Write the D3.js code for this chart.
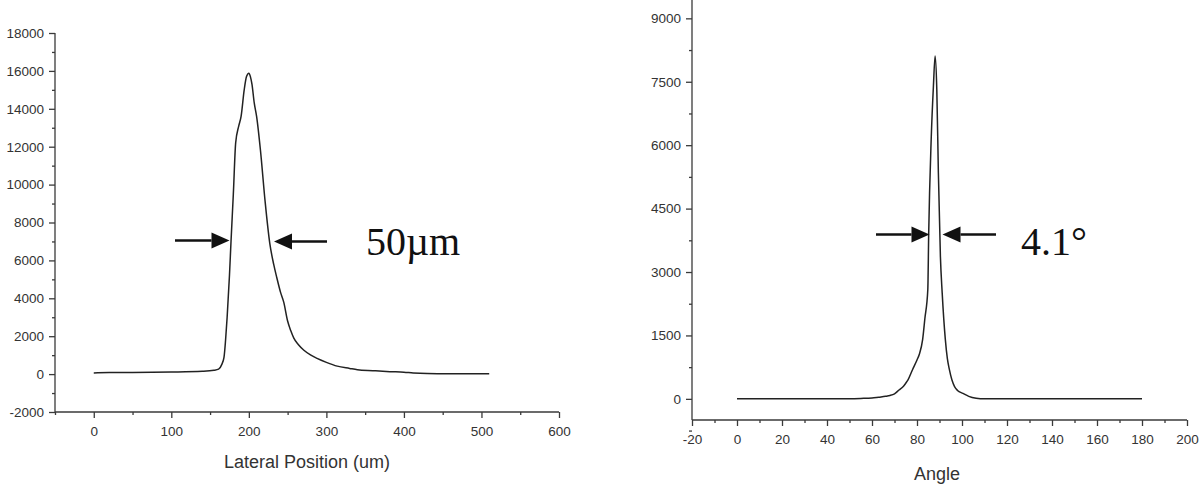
<!DOCTYPE html>
<html>
<head>
<meta charset="utf-8">
<script src="https://cdn.jsdelivr.net/npm/d3@7"></script>
<style>
  html, body { margin: 0; padding: 0; background: #ffffff; }
  svg { display: block; }
  .axis path, .axis line { stroke: #3a3a3a; stroke-width: 1.3; }
  .axis text { fill: #333333; font-family: "Liberation Sans", Arial, sans-serif; font-size: 13.5px; }
  .axis-title { fill: #333333; font-family: "Liberation Sans", Arial, sans-serif; font-size: 18px; }
  .note { fill: #111111; font-family: "Liberation Serif", "Times New Roman", serif; font-size: 40px; }
</style>
</head>
<body>
<script>
// Left panel: lateral intensity profile
const leftPos = [0, 20, 50, 100, 140, 155, 161, 165, 168, 170, 172, 175, 177, 180, 183, 187, 190, 194, 197, 200,
  202, 204, 207, 210, 215, 221, 227, 232, 236, 241, 245, 250, 254, 258, 264, 271, 280, 288, 300, 314, 330,
  340, 360, 382, 400, 412, 430, 455, 480, 510];
const leftVal = [60, 80, 90, 110, 150, 200, 260, 500, 900, 1800, 3000, 5200, 7000, 9500, 12200, 13100, 13600, 15000, 15700, 15880,
  15700, 15300, 14300, 13600, 11800, 9100, 6900, 5800, 5100, 4300, 3800, 2800, 2300, 1900, 1550, 1260, 1000, 830, 620, 420, 300,
  230, 180, 130, 100, 60, 30, 20, 15, 15];
const leftMajorX = [0, 100, 200, 300, 400, 500, 600];
const leftMinorX = [-50, 50, 150, 250, 350, 450, 550];
const leftMajorY = [-2000, 0, 2000, 4000, 6000, 8000, 10000, 12000, 14000, 16000, 18000];
const leftMinorY = [-1000, 1000, 3000, 5000, 7000, 9000, 11000, 13000, 15000, 17000];

// Right panel: angular intensity profile
const rightAngle = [0, 20, 45, 55, 60, 63, 66, 68, 70, 72, 74, 75, 76, 78, 80, 81, 82.5, 83.5, 84.8, 85.2,
  86.3, 87.3, 88.05, 88.8, 89.5, 90.4, 91.2, 92.6, 93.5, 94.4, 95.5, 96.7, 98, 100.4, 103, 106.3, 110, 130, 150, 180];
const rightVal = [0, 0, 0, 10, 20, 40, 60, 80, 120, 210, 300, 370, 450, 690, 920, 1050, 1400, 1900, 2580, 3920,
  6130, 7400, 8110, 7320, 5350, 3370, 2500, 1400, 950, 690, 450, 290, 200, 130, 60, 15, 0, 0, 0, 0];
const rightMajorX = [-20, 0, 20, 40, 60, 80, 100, 120, 140, 160, 180, 200];
const rightMinorX = [-10, 10, 30, 50, 70, 90, 110, 130, 150, 170, 190];
const rightMajorY = [0, 1500, 3000, 4500, 6000, 7500, 9000];
const rightMinorY = [-750, 750, 2250, 3750, 5250, 6750, 8250];

const W = 1203, H = 496;
const svg = d3.select('body').append('svg').attr('width', W).attr('height', H);

// plain hyphen for negatives, as in the source figure
const fmt = (d) => String(d);

function drawPanel(cfg) {
  const x = d3.scaleLinear().domain(cfg.xDomain).range(cfg.xRange);
  const y = d3.scaleLinear().domain(cfg.yDomain).range(cfg.yRange);
  const x0 = cfg.xRange[0], y0 = cfg.yRange[0];

  // minor ticks first, majors on top
  svg.append('g').attr('class', 'axis').attr('transform', `translate(0,${y0})`)
    .call(d3.axisBottom(x).tickValues(cfg.minorX).tickSize(3).tickFormat(''))
    .select('.domain').remove();
  svg.append('g').attr('class', 'axis').attr('transform', `translate(${x0},0)`)
    .call(d3.axisLeft(y).tickValues(cfg.minorY).tickSize(3).tickFormat(''))
    .select('.domain').remove();

  const gx = svg.append('g').attr('class', 'axis').attr('transform', `translate(0,${y0})`)
    .call(d3.axisBottom(x).tickValues(cfg.majorX).tickSize(6).tickSizeOuter(0).tickPadding(8).tickFormat(fmt));
  const gy = svg.append('g').attr('class', 'axis').attr('transform', `translate(${x0},0)`)
    .call(d3.axisLeft(y).tickValues(cfg.majorY).tickSize(6).tickSizeOuter(0).tickPadding(5).tickFormat(fmt));
  gx.select('.domain').attr('d', `M${cfg.xRange[0]},0H${cfg.xRange[1]}`);
  gy.select('.domain').attr('d', `M0,${cfg.yRange[0]}V${cfg.yTop}`);

  svg.append('text').attr('class', 'axis-title')
    .attr('x', cfg.titleX).attr('y', cfg.titleY).attr('text-anchor', 'middle')
    .text(cfg.title);

  const line = d3.line().curve(d3.curveMonotoneX).x((d) => x(d[0])).y((d) => y(d[1]));
  svg.append('path')
    .datum(cfg.xs.map((v, i) => [v, cfg.ys[i]]))
    .attr('d', line)
    .attr('fill', 'none')
    .attr('stroke', '#222222')
    .attr('stroke-width', 1.5)
    .attr('stroke-linejoin', 'round');
}

drawPanel({
  xDomain: [-50, 600], xRange: [55, 559],
  yDomain: [-2000, 18000], yRange: [412, 33], yTop: 33,
  majorX: leftMajorX, minorX: leftMinorX, majorY: leftMajorY, minorY: leftMinorY,
  xs: leftPos, ys: leftVal,
  title: 'Lateral Position (um)', titleX: 307, titleY: 468
});

drawPanel({
  xDomain: [-20, 200], xRange: [692, 1187],
  yDomain: [-500, 9500], yRange: [420, -2.8], yTop: 0,
  majorX: rightMajorX, minorX: rightMinorX, majorY: rightMajorY, minorY: rightMinorY,
  xs: rightAngle, ys: rightVal,
  title: 'Angle', titleX: 937, titleY: 480
});

// width annotations: arrows pointing at the half-maximum crossings
function arrow(xTail, xTip, yy) {
  const dir = Math.sign(xTip - xTail);
  const headLen = 18, headHalf = 8;
  svg.append('line')
    .attr('x1', xTail).attr('y1', yy).attr('x2', xTip - dir * headLen).attr('y2', yy)
    .attr('stroke', '#111111').attr('stroke-width', 2.5);
  svg.append('path')
    .attr('d', `M${xTip},${yy}L${xTip - dir * headLen},${yy - headHalf}L${xTip - dir * headLen},${yy + headHalf}Z`)
    .attr('fill', '#111111');
}

arrow(175, 229.5, 240.5);
arrow(327, 274, 241.5);
svg.append('text').attr('class', 'note').attr('x', 366).attr('y', 255).text('50µm');

arrow(876, 929.5, 234.5);
arrow(996, 942.5, 234.5);
svg.append('text').attr('class', 'note').attr('x', 1021).attr('y', 255).text('4.1°');
</script>
</body>
</html>
